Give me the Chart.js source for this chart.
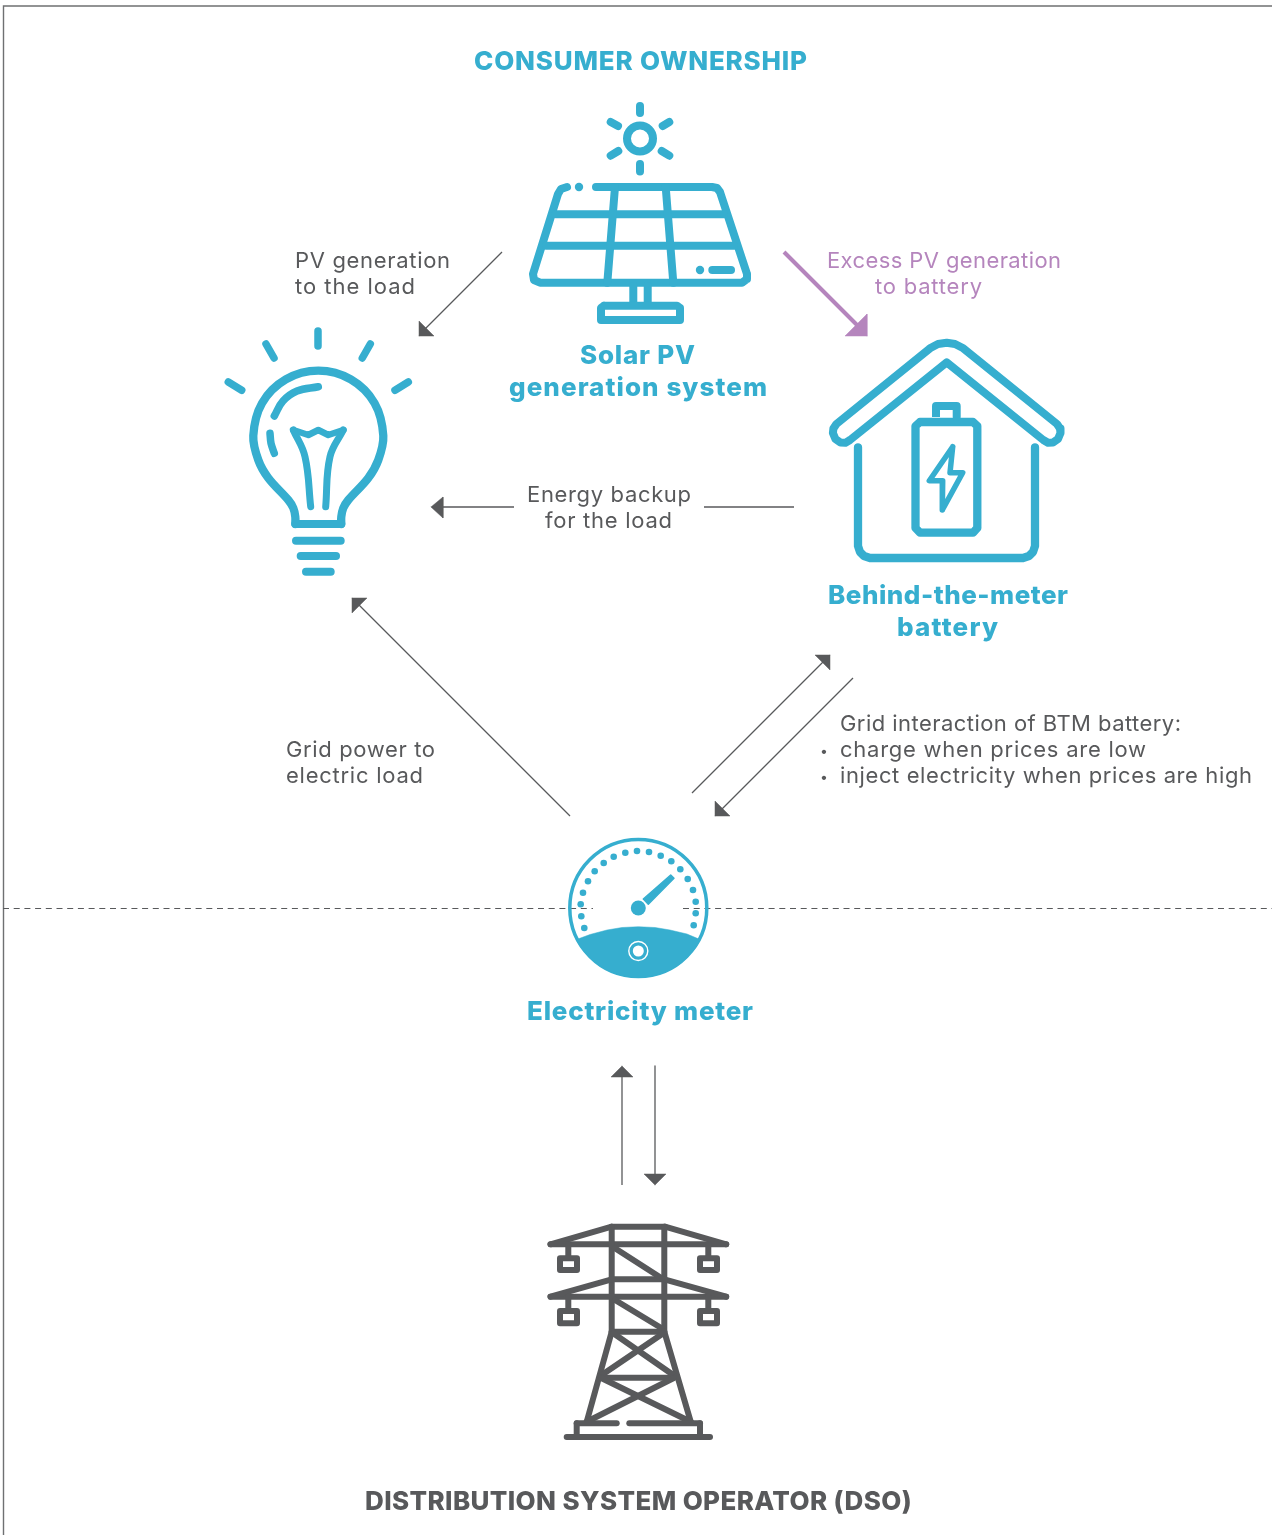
<!DOCTYPE html>
<html><head><meta charset="utf-8"><title>Consumer ownership diagram</title>
<style>html,body{margin:0;padding:0;background:#fff}canvas{display:block}</style>
<script src="https://cdn.jsdelivr.net/npm/chart.js@4"></script></head>
<body><canvas id="c" width="1272" height="1535"></canvas>
<script>
// ---- values ----
const frame=[[3.5,1535],[3.5,6],[1272,6]];
const gridLineLeft=[[3,908.5],[593,908.5]];
const gridLineRight=[[683,908.5],[1272,908.5]];
// arrows
const arrowPvLoad=[[502,252],[425,329]], headPvLoad=[[419,336],[419,321],[434,336],[419,336]];
const arrowExcess=[[784,252],[858,326]], headExcess=[[867,336],[845,336],[867,314],[867,336]];
const arrowBackupA=[[514,507],[441,507]], arrowBackupB=[[704,507],[794,507]], headBackup=[[431,507],[443,497],[443,518],[431,507]];
const arrowGridLoad=[[570,816],[358,604]], headGridLoad=[[352,598],[367,598],[352,613],[352,598]];
const arrowBtmUp=[[692,793],[824,661]], headBtmUp=[[830,655],[815,655],[830,670],[830,655]];
const arrowBtmDown=[[853,678],[722,809]], headBtmDown=[[715,816],[715,801],[730,816],[715,816]];
const arrowDsoUp=[[622,1185],[622,1076]], headDsoUp=[[622,1066],[611,1077],[633,1077],[622,1066]];
const arrowDsoDown=[[655,1066],[655,1175]], headDsoDown=[[655,1185],[644,1174],[666,1174],[655,1185]];
// solar panel
const sunCentre=[[640,138.5]];
const sunRays=[[[640,106],[640,113]],[[640,164],[640,171.5]],[[662.7,126],[669.3,122]],[[610.7,122],[618,126]],[[610.7,155.7],[618.3,151]],[[661.7,151],[669.3,155.7]]];
const panelEdge=[[596,187],[712,187],[717,188],[720,192],[747,274],[747,279],[742,282.7],[540,282.7],[534,280],[533,274],[558,194],[561,189],[567,187]];
const panelDots=[[579,187],[700,270]];
const panelLines=[[[555.7,214.3],[724,214.3]],[[546,245.7],[734,245.7]],[[615,187],[607.3,282.7]],[[665.7,187],[673.3,282.7]],[[712.3,270],[731,270]],[[633.3,286],[633.3,303]],[[647.7,286],[647.7,303]]];
const panelBase=[[604,305.7],[677,305.7],[680,308],[680,320],[601,320],[601,308],[604,305.7]];
// bulb
const bulbRays=[[[318,331],[318,346]],[[266,344],[274,358]],[[370.3,344],[362.3,358]],[[228.3,382],[241.7,390.3]],[[408.3,382],[395,390.3]]];
const bulbGlass=[[295.3,524],[295.3,516.7],[293.3,508],[288.3,500],[268.3,478],[258.3,460],[253.3,435.7],[262,403.2],[285.8,379.4],[318.3,370.7],[350.8,379.4],[374.6,403.2],[383.3,435.7],[378.3,460],[368.3,478],[348.3,500],[343.3,508],[341.3,516.7],[341.3,524]];
const bulbNeck=[[295.3,524],[341.3,524]];
const bulbShineA=[[274.3,416],[283,401],[297,391],[318.3,386.7]];
const bulbShineB=[[270,433.3],[271,443.3],[274.3,453.3]];
const filamentTop=[[293.3,430],[308.3,435],[318.3,430],[328.3,435],[343.3,430]];
const filamentLeft=[[293.3,430],[305,456.7],[310.7,506.7]];
const filamentRight=[[343.3,430],[330,456.7],[325.7,506.7]];
const bulbScrews=[[[296,540.7],[340.7,540.7]],[[300.7,556],[336,556]],[[306,571.7],[330.7,571.7]]];
// house and battery
const roof=[[930,348.3],[938,344],[946.7,342.7],[955,344],[963.3,348.3],[1057,424],[1060,428.5],[1060.5,433],[1058,439],[1053,442.5],[1048,442.8],[1043.3,440],[946.7,362.3],[850,440],[845.4,442.8],[840.4,442.5],[835.4,439],[832.9,433],[833.4,428.5],[836.4,424],[930,348.3]];
const walls=[[858,447.3],[858,546],[860,552],[864,556],[870,558],[1023,558],[1029,556],[1033,552],[1035,546],[1035,447.3]];
const batteryBody=[[920,422],[973,422],[977.3,426],[977.3,528],[973,532.7],[920,532.7],[915.5,528],[915.5,426],[920,422]];
const batteryCap=[[936,417],[936,406],[956.7,406],[956.7,417]];
const bolt=[[952.7,446.7],[929.3,480.7],[942.7,480.7],[942.3,510],[962.7,472.7],[950,472.7],[952.7,446.7]];
// meter
const meterCentre=[[638.3,908]];
const meterFill=[[576.4,939.6],[590,934.5],[607,930],[622,927.5],[638.3,926.7],[655,927.5],[670,930],[687,934],[700.2,939.6],[695.2,947.9],[687.4,957.1],[678.2,964.9],[667.7,971],[656.3,975.1],[644.4,977.2],[638.3,977.5],[632.2,977.2],[620.3,975.1],[608.9,971],[598.4,964.9],[589.2,957.1],[581.4,947.9],[576.4,939.6]];
const meterTicks=[[584.3,928],[581.3,916.3],[580.7,904.3],[583,892.7],[588,881.3],[594.7,871.3],[603.7,863],[613.7,856.7],[625.3,852.7],[637,851],[649,852],[660.7,855.7],[671.3,861.3],[680.3,869.3],[687.7,879],[693,890],[695.7,901.7],[695.7,913.3],[693.7,925.3]];
const needle=[[643.3,899],[648.3,904.3],[674,878.3],[670.7,875],[643.3,899]];
const meterRingCentre=[[638.3,951]];
// tower
const towerLines=[
 [[611.7,1226.7],[665,1226.7]],[[550.5,1244.3],[611.7,1226.7]],[[665,1226.7],[726.2,1244.3]],[[550.5,1244.3],[726.2,1244.3]],
 [[611.7,1226.7],[611.7,1331.7]],[[664.3,1226.7],[664.3,1331.7]],
 [[568.3,1244.3],[568.3,1256]],[[708.3,1244.3],[708.3,1256]],
 [[550.5,1296.7],[726.2,1296.7]],[[550.5,1296.7],[611.7,1279.3]],[[664.3,1279.3],[726.2,1296.7]],[[611.7,1279.3],[664.3,1279.3]],
 [[568.3,1296.7],[568.3,1309]],[[708.3,1296.7],[708.3,1309]],
 [[615,1248.3],[661.7,1278.3]],[[615,1300],[661.7,1328.3]],[[611.7,1331.7],[664.3,1331.7]],
 [[611.7,1331.7],[586.7,1421.7]],[[664.3,1331.7],[690.7,1421.7]],
 [[613.3,1333.3],[673.3,1375]],[[663.3,1333.3],[601.7,1375]],[[601.7,1377.7],[673.3,1377.7]],
 [[601.7,1378.3],[690.7,1421.7]],[[673.3,1378.3],[586.7,1421.7]],
 [[576.7,1423.3],[616.7,1423.3]],[[629.3,1423.3],[700,1423.3]],[[576.7,1423.3],[576.7,1437]],[[700,1423.3],[700,1437]],[[566.7,1437],[710,1437]]];
const towerBoxes=[
 [[560,1258.3],[577,1258.3],[577,1270],[560,1270],[560,1258.3]],[[700,1258.3],[717,1258.3],[717,1270],[700,1270],[700,1258.3]],
 [[560,1311],[577,1311],[577,1323.3],[560,1323.3],[560,1311]],[[700,1311],[717,1311],[717,1323.3],[700,1323.3],[700,1311]]];
// text
const titleLabels=["CONSUMER OWNERSHIP","Solar PV","generation system","Behind-the-meter","battery","Electricity meter"];
const dsoLabel=["DISTRIBUTION SYSTEM OPERATOR (DSO)"];
const noteLabels=["PV generation","to the load","Energy backup","for the load","Grid power to","electric load","Grid interaction of BTM battery:","charge when prices are low","inject electricity when prices are high"];
const excessLabels=["Excess PV generation","to battery"];

// ---- styles and layout ----
const TEAL='#36aecf', GREY='#58595b', PURPLE='#b585bd';
const pts=a=>a.map(p=>({x:p[0],y:p[1]}));
const sets=[];
function line(a,color,width,o={}){sets.push(Object.assign({data:pts(a),showLine:true,borderColor:color,borderWidth:width,pointRadius:0,pointHoverRadius:0,borderCapStyle:'round',borderJoinStyle:'round',tension:0,fill:false,clip:false},o));}
function shape(a,color,o={}){line(a,color,0.5,Object.assign({fill:'shape',backgroundColor:color},o));}
function dots(a,r,fill,border,bw){sets.push({data:pts(a),showLine:false,pointStyle:'circle',pointRadius:r,pointHoverRadius:r,pointBackgroundColor:fill,pointBorderColor:border,pointBorderWidth:bw,clip:false});}

line(frame,'#6f7072',1.4,{borderCapStyle:'butt',borderJoinStyle:'miter'});
line(gridLineLeft,GREY,1.2,{borderDash:[6,4.7],borderCapStyle:'butt'});
line(gridLineRight,GREY,1.2,{borderDash:[6,4.7],borderCapStyle:'butt'});
[arrowPvLoad,arrowBackupA,arrowBackupB,arrowGridLoad,arrowBtmUp,arrowBtmDown,arrowDsoUp,arrowDsoDown].forEach(a=>line(a,GREY,1.3,{borderCapStyle:'butt'}));
[headPvLoad,headBackup,headGridLoad,headBtmUp,headBtmDown,headDsoUp,headDsoDown].forEach(a=>shape(a,GREY));
line(arrowExcess,PURPLE,4,{borderCapStyle:'butt'}); shape(headExcess,PURPLE);
// solar
sunRays.forEach(a=>line(a,TEAL,8));
dots(sunCentre,13,'rgba(0,0,0,0)',TEAL,8);
line(panelEdge,TEAL,8); panelLines.forEach(a=>line(a,TEAL,8,{borderCapStyle:a[0][1]>285?'butt':'round'}));
dots(panelDots,4.2,TEAL,TEAL,0);
line(panelBase,TEAL,8);
// bulb
bulbRays.forEach(a=>line(a,TEAL,7.5));
line(bulbGlass,TEAL,8.3,{tension:0.35}); line(bulbNeck,TEAL,8);
line(bulbShineA,TEAL,7.5,{tension:0.4}); line(bulbShineB,TEAL,7.5,{tension:0.3});
line(filamentTop,TEAL,6.5); line(filamentLeft,TEAL,7,{tension:0.4}); line(filamentRight,TEAL,7,{tension:0.4});
bulbScrews.forEach(a=>line(a,TEAL,8));
// house
line(roof,TEAL,8); line(walls,TEAL,8.3); line(batteryBody,TEAL,8.3); line(batteryCap,TEAL,8,{borderCapStyle:'butt'}); line(bolt,TEAL,5.5);
// meter
dots(meterCentre,68.5,'rgba(0,0,0,0)',TEAL,3.5);
shape(meterFill,TEAL);
dots(meterTicks,3.3,TEAL,TEAL,0);
dots(meterCentre,7.5,TEAL,TEAL,0);
shape(needle,TEAL,{borderWidth:1.5});
dots(meterRingCentre,9.5,'rgba(0,0,0,0)','#fff',1.4);
dots(meterRingCentre,5.5,'#fff','#fff',0);
// tower
towerLines.forEach(a=>line(a,GREY,6));
towerBoxes.forEach(a=>line(a,GREY,6));

const TF='Inter, sans-serif';
const BOLD='800 26px '+TF, NOTE='400 22px '+TF;
// [text, anchor x, baseline y, target width, font, colour]
const layout=[
 [titleLabels[0],474,70,333,BOLD,TEAL],
 [titleLabels[1],580,364,115,BOLD,TEAL],
 [titleLabels[2],509,396,258,BOLD,TEAL],
 [titleLabels[3],828,604,240,BOLD,TEAL],
 [titleLabels[4],897,636,101,BOLD,TEAL],
 [titleLabels[5],527,1020,226,BOLD,TEAL],
 [dsoLabel[0],365,1510,546,BOLD,GREY],
 [noteLabels[0],295,268,155,NOTE,GREY],
 [noteLabels[1],295,294,120,NOTE,GREY],
 [noteLabels[2],527,502,164,NOTE,GREY],
 [noteLabels[3],545,528,127,NOTE,GREY],
 [noteLabels[4],286,757,149,NOTE,GREY],
 [noteLabels[5],286,783,137,NOTE,GREY],
 [noteLabels[6],840,731,341,NOTE,GREY],
 [noteLabels[7],840,757,306,NOTE,GREY],
 [noteLabels[8],840,783,412,NOTE,GREY],
 ['•',820,756,0,'400 14px '+TF,GREY],
 ['•',820,782,0,'400 14px '+TF,GREY],
 [excessLabels[0],827,268,234,NOTE,PURPLE],
 [excessLabels[1],875,294,107,NOTE,PURPLE]
];
const textPlugin={id:'diagramText',afterDatasetsDraw(chart){
 const c=chart.ctx,sx=chart.scales.x,sy=chart.scales.y;
 c.save();c.textAlign='left';c.textBaseline='alphabetic';
 layout.forEach(([t,x,y,w,f,col])=>{
  c.font=f;c.fillStyle=col;c.letterSpacing='0px';
  if(w>0){const m=c.measureText(t).width;c.letterSpacing=((w-m)/(t.length-1)).toFixed(3)+'px';}
  c.fillText(t,sx.getPixelForValue(x),sy.getPixelForValue(y));
 });
 c.restore();
}};
new Chart(document.getElementById('c'),{type:'scatter',
 data:{datasets:sets.reverse()},
 plugins:[textPlugin],
 options:{responsive:false,animation:false,events:[],layout:{padding:0,autoPadding:false},
  plugins:{legend:{display:false},tooltip:{enabled:false},title:{display:false}},
  scales:{x:{type:'linear',min:0,max:1272,display:false},y:{type:'linear',min:0,max:1535,reverse:true,display:false}},
  elements:{line:{capBezierPoints:false}}}
});
</script></body></html>
